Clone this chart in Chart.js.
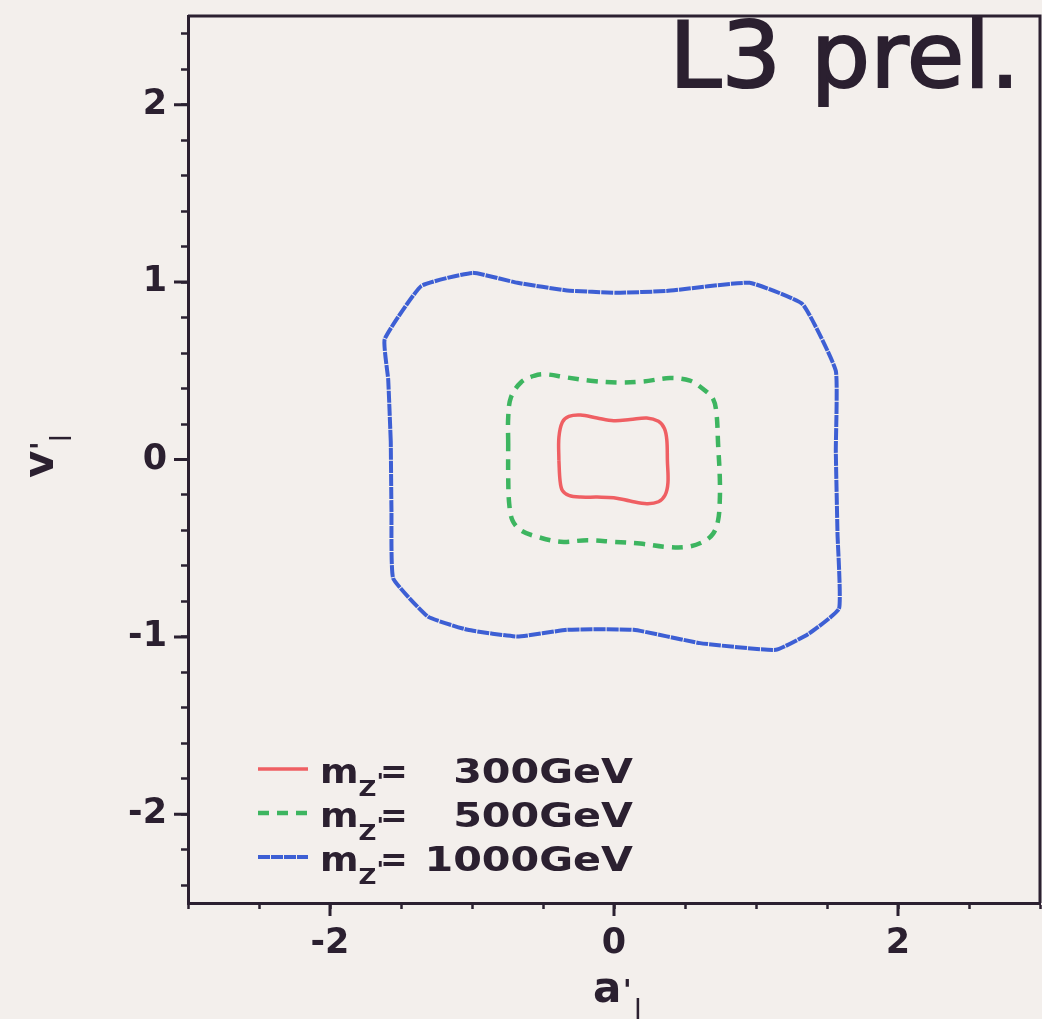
<!DOCTYPE html>
<html>
<head>
<meta charset="utf-8">
<script src="https://cdn.jsdelivr.net/npm/chart.js@4.4.0/dist/chart.umd.min.js"></script>
<style>
  html, body { margin: 0; padding: 0; background: #f3efec; }
  #wrap { width: 1042px; height: 1019px; }
</style>
</head>
<body>
<div id="wrap"><canvas id="c" width="1042" height="1019"></canvas></div>
<script>
// contour values, (a'l, v'l) pairs
const red300A = [-0.388, -0.388, -0.364, -0.318, -0.236, -0.119, -0.002, 0.114, 0.231, 0.313, 0.355, 0.372, 0.376, 0.38, 0.36, 0.313, 0.231, 0.114, -0.002, -0.119, -0.236, -0.318, -0.364, -0.38, -0.388];
const red300V = [-0.006, 0.125, 0.21, 0.243, 0.251, 0.234, 0.219, 0.225, 0.234, 0.215, 0.175, 0.11, -0.006, -0.13, -0.2, -0.238, -0.249, -0.234, -0.215, -0.212, -0.212, -0.202, -0.174, -0.118, -0.006];

const green500A = [-0.745, -0.745, -0.726, -0.656, -0.563, -0.492, -0.329, -0.166, 0.044, 0.208, 0.394, 0.535, 0.628, 0.698, 0.722, 0.733, 0.745, 0.745, 0.733, 0.698, 0.628, 0.511, 0.371, 0.184, -0.002, -0.189, -0.376, -0.539, -0.656, -0.715, -0.738, -0.745, -0.745];
const green500V = [0.088, 0.238, 0.35, 0.434, 0.472, 0.481, 0.462, 0.444, 0.434, 0.44, 0.459, 0.444, 0.397, 0.341, 0.257, 0.088, -0.099, -0.23, -0.343, -0.418, -0.464, -0.493, -0.493, -0.474, -0.464, -0.455, -0.464, -0.436, -0.399, -0.343, -0.249, -0.099, 0.088];

const blue1000A = [-1.572, -1.59, -1.615, -1.357, -0.995, -0.68, -0.33, 0.02, 0.37, 0.955, 1.329, 1.562, 1.562, 1.574, 1.585, 1.375, 1.14, 0.605, 0.138, -0.33, -0.68, -1.03, -1.31, -1.555, -1.567, -1.572];
const blue1000V = [0.1, 0.45, 0.678, 0.978, 1.052, 0.996, 0.953, 0.94, 0.95, 0.996, 0.875, 0.5, 0.05, -0.42, -0.84, -0.98, -1.073, -1.035, -0.96, -0.96, -0.998, -0.96, -0.886, -0.67, -0.3, 0.1];

const massLabels = ['300GeV', '500GeV', '1000GeV'];

// tick positions and which of them carry labels
const xTicks = [-3, -2.5, -2, -1.5, -1, -0.5, 0, 0.5, 1, 1.5, 2, 2.5, 3];
const xLabels = [-2, 0, 2];
const yTicks = [];
for (let k = -12; k <= 12; k++) yTicks.push(Math.round(k * 2) / 10);
const yLabels = [-2, -1, 0, 1, 2];

const ink = '#2b2030';
const bold = 'DejaVu Sans';

const pts = (a, v) => a.map((x, i) => ({ x: x, y: v[i] }));

function wideText(ctx, text, x, y, sx) {
  ctx.save();
  ctx.translate(x, y);
  ctx.scale(sx, 1);
  ctx.fillText(text, 0, 0);
  const w = ctx.measureText(text).width * sx;
  ctx.restore();
  return w;
}

const decorations = {
  id: 'decorations',
  afterDraw(chart) {
    const { ctx, chartArea: ca, scales: { x, y } } = chart;
    ctx.save();
    // frame on top and right
    ctx.strokeStyle = ink;
    ctx.lineWidth = 3;
    ctx.beginPath();
    ctx.moveTo(ca.left, ca.top);
    ctx.lineTo(ca.right, ca.top);
    ctx.lineTo(ca.right, ca.bottom);
    ctx.stroke();

    // longer major ticks
    ctx.lineWidth = 3;
    ctx.beginPath();
    xLabels.forEach(v => {
      const px = x.getPixelForValue(v);
      ctx.moveTo(px, ca.bottom);
      ctx.lineTo(px, ca.bottom + 13);
    });
    yLabels.forEach(v => {
      const py = y.getPixelForValue(v);
      ctx.moveTo(ca.left - 14, py);
      ctx.lineTo(ca.left, py);
    });
    ctx.stroke();

    ctx.fillStyle = ink;
    ctx.textBaseline = 'alphabetic';

    // L3 prel.
    ctx.font = '90px "DejaVu Sans"';
    ctx.lineWidth = 2;
    ctx.save();
    ctx.translate(ca.right - 20, ca.top + 71);
    ctx.scale(1.04, 1);
    ctx.textAlign = 'right';
    ctx.fillText('L3 prel.', 0, 0);
    ctx.strokeText('L3 prel.', 0, 0);
    ctx.restore();
    ctx.textAlign = 'left';

    // x axis title a'_l
    const tx = 593, ty = 1002;
    ctx.font = 'bold 42px "DejaVu Sans"';
    ctx.fillText('a', tx, ty);
    ctx.font = 'bold 28px "DejaVu Sans"';
    ctx.fillText("'", tx + 30, ty - 2);
    ctx.font = '28px "DejaVu Sans"';
    ctx.fillText('l', tx + 41, ty + 18);

    // y axis title v'_l (rotated)
    ctx.save();
    ctx.translate(53, 478);
    ctx.rotate(-Math.PI / 2);
    ctx.font = 'bold 42px "DejaVu Sans"';
    ctx.fillText('v', 0, 0);
    ctx.font = 'bold 28px "DejaVu Sans"';
    ctx.fillText("'", 28, -2);
    ctx.font = '28px "DejaVu Sans"';
    ctx.fillText('l', 36, 18);
    ctx.restore();

    // legend
    const lx = ca.left + 70;
    chart.data.datasets.forEach((ds, i) => {
      const ry = ca.bottom - 134 + i * 44;
      ctx.save();
      ctx.strokeStyle = ds.borderColor;
      ctx.lineWidth = ds.borderWidth;
      ctx.setLineDash(ds.borderDash || []);
      ctx.beginPath();
      ctx.moveTo(lx, ry);
      ctx.lineTo(lx + 50, ry);
      ctx.stroke();
      ctx.restore();

      const base = ry + 14;
      let cx = lx + 62;
      ctx.font = 'bold 33px "DejaVu Sans"';
      cx += wideText(ctx, 'm', cx, base, 1.12);
      ctx.font = 'bold 22px "DejaVu Sans"';
      cx += wideText(ctx, 'Z', cx, base + 13, 1.12);
      cx += wideText(ctx, "'", cx, base + 6, 1.12) - 4;
      ctx.font = 'bold 33px "DejaVu Sans"';
      wideText(ctx, '=', cx, base, 1.0);
      const vw = ctx.measureText(ds.label).width * 1.25;
      wideText(ctx, ds.label, lx + 375 - vw, base, 1.25);
    });
    ctx.restore();
  }
};

new Chart(document.getElementById('c'), {
  type: 'scatter',
  data: {
    datasets: [
      {
        label: massLabels[0],
        data: pts(red300A, red300V),
        showLine: true,
        borderColor: '#ef5f63',
        borderWidth: 3.5,
        tension: 0.35,
        pointRadius: 0
      },
      {
        label: massLabels[1],
        data: pts(green500A, green500V),
        showLine: true,
        borderColor: '#3db560',
        borderWidth: 4.5,
        borderDash: [11, 8],
        tension: 0.35,
        pointRadius: 0
      },
      {
        label: massLabels[2],
        data: pts(blue1000A, blue1000V),
        showLine: true,
        borderColor: '#3d5fd4',
        borderWidth: 4,
        borderDash: [12, 1],
        tension: 0.12,
        pointRadius: 0
      }
    ]
  },
  options: {
    responsive: false,
    animation: false,
    layout: { padding: { left: 0, top: 16, right: 2, bottom: 0 } },
    plugins: { legend: { display: false }, tooltip: { enabled: false } },
    scales: {
      x: {
        type: 'linear',
        min: -3,
        max: 3,
        afterBuildTicks: s => { s.ticks = xTicks.map(v => ({ value: v })); },
        afterFit: s => { s.height = 116; s.paddingLeft = 0; s.paddingRight = 0; },
        grid: { drawOnChartArea: false, tickLength: 6, tickColor: ink, tickWidth: 2.5 },
        border: { display: true, color: ink, width: 3 },
        ticks: {
          autoSkip: false,
          maxRotation: 0,
          padding: 14,
          color: ink,
          font: { family: bold, weight: 'bold', size: 35 },
          callback: v => xLabels.includes(v) ? String(v) : ''
        }
      },
      y: {
        type: 'linear',
        min: -2.5,
        max: 2.5,
        afterBuildTicks: s => { s.ticks = yTicks.map(v => ({ value: v })); },
        afterFit: s => { s.width = 188; s.paddingTop = 0; s.paddingBottom = 0; },
        grid: { drawOnChartArea: false, tickLength: 7, tickColor: ink, tickWidth: 2.5 },
        border: { display: true, color: ink, width: 3 },
        ticks: {
          autoSkip: false,
          padding: 14,
          color: ink,
          font: { family: bold, weight: 'bold', size: 35 },
          callback: v => yLabels.includes(v) ? String(v) : ''
        }
      }
    }
  },
  plugins: [decorations]
});
</script>
</body>
</html>
